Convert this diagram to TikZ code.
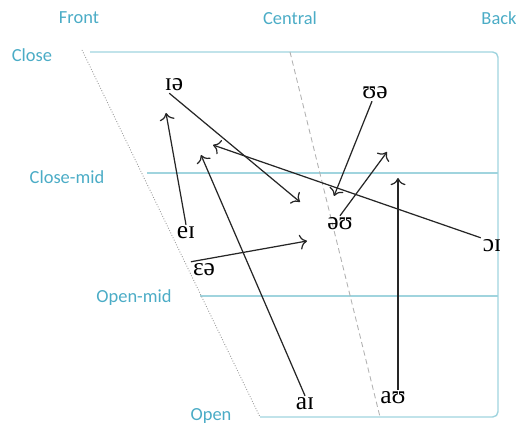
\documentclass[tikz,border=0pt]{standalone}
\usepackage{fontspec}
\usetikzlibrary{arrows.meta}
\setmainfont{Liberation Serif}
\newfontfamily\labfont{Carlito}
\definecolor{labelblue}{RGB}{75,172,198}
\definecolor{gridblue}{RGB}{160,212,222}
\tikzset{
  axislabel/.style={font=\labfont\fontsize{10.5}{12}\selectfont, text=labelblue, inner sep=1pt},
  vowel/.style={font=\fontsize{14.5}{16}\selectfont, inner sep=1pt},
  gridline/.style={gridblue, line width=0.8pt},
  slantline/.style={gray!80, line width=0.5pt, densely dotted},
  glide/.style={-{To[scale=1.3]}, line width=0.7pt, black!85}
}
\begin{document}
\begin{tikzpicture}[x=0.02cm, y=-0.02cm]
\useasboundingbox (0,0) rectangle (516,425);

% Cadre du trapeze
\coordinate (closeL) at (82,50);
\coordinate (openL) at (260,417);
\coordinate (closeR) at (498,52);
\coordinate (openR) at (498,417);
\draw[gridline, rounded corners=3pt] (90,52) -- (closeR) -- (openR) -- (openL);
\draw[gridline] (147,173) -- (498,173);
\draw[gridline] (200,296) -- (498,296);
\draw[slantline] (closeL) -- (openL);
\draw[slantline, densely dashed, gray!60] (290,52) -- (380,417);

% Etiquettes des axes
\node[axislabel] (front) at (79,18) {Front};
\node[axislabel] (central) at (290,18) {Central};
\node[axislabel] (back) at (499,18) {Back};
\node[axislabel] (close) at (32,55) {Close};
\node[axislabel] (closemid) at (67,177) {Close-mid};
\node[axislabel] (openmid) at (134,298) {Open-mid};
\node[axislabel] (open) at (211,416) {Open};

% Diphtongues
\node[vowel] (ia) at (174,85) {ɪə};
\node[vowel] (ua) at (375,93) {ʊə};
\node[vowel] (ou) at (340,224) {əʊ};
\node[vowel] (ei) at (186,233) {eɪ};
\node[vowel] (ea) at (204,270) {ɛə};
\node[vowel] (oi) at (492,246) {ɔɪ};
\node[vowel] (ai) at (305,404) {aɪ};
\node[vowel] (au) at (393,398) {aʊ};

% Points d'arrivee
\coordinate (eiEnd) at (166,113);
\coordinate (iaEnd) at (300,202);
\coordinate (oiEnd) at (213,145);
\coordinate (aiEnd) at (201,155);
\coordinate (eaEnd) at (307,241);
\coordinate (uaEnd) at (334,196);
\coordinate (ouEnd) at (387,152);
\coordinate (auEnd) at (398,178);

% Glissements
\draw[glide] (ei.north) -- (eiEnd);
\draw[glide] (ia.-120) -- (iaEnd);
\draw[glide] (oi.north west) -- (oiEnd);
\draw[glide] (ai.north) -- (aiEnd);
\draw[glide] (ea.north west) -- (eaEnd);
\draw[glide] (ua.-110) -- (uaEnd);
\draw[glide] (ou.north) -- (ouEnd);
\draw[glide] (au.north -| auEnd) -- (auEnd);

\end{tikzpicture}
\end{document}
